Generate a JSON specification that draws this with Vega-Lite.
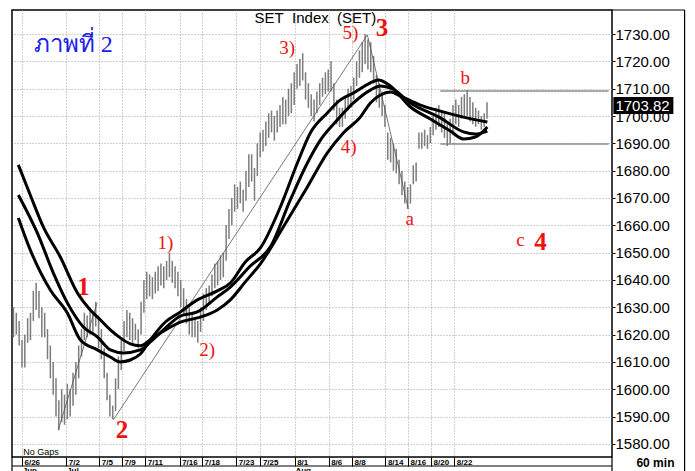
{
  "$schema": "https://vega.github.io/schema/vega-lite/v6.json",
  "width": 600,
  "height": 447,
  "autosize": {"type": "none"},
  "padding": {"left": 12, "top": 10, "right": 83, "bottom": 14},
  "background": "white",
  "config": {
    "view": {"stroke": "#000", "strokeWidth": 1.5},
    "text": {"font": "Liberation Sans"}
  },
  "datasets": {
    "bars": [
      {"t":0.13,"v":1619,"v2":1630},{"t":0.38,"v":1620,"v2":1628},{"t":0.63,"v":1616,"v2":1625},{"t":0.88,"v":1608,"v2":1618},
      {"t":1.13,"v":1608,"v2":1620},{"t":1.38,"v":1617,"v2":1626},{"t":1.63,"v":1618,"v2":1628},{"t":1.88,"v":1625,"v2":1636},
      {"t":2.13,"v":1629,"v2":1639},{"t":2.38,"v":1626,"v2":1636},{"t":2.63,"v":1619,"v2":1630},{"t":2.88,"v":1619,"v2":1628},
      {"t":3.13,"v":1611,"v2":1622},{"t":3.38,"v":1604,"v2":1616},{"t":3.63,"v":1598,"v2":1610},{"t":3.88,"v":1590,"v2":1604},
      {"t":4.13,"v":1585,"v2":1596},{"t":4.38,"v":1588,"v2":1600},{"t":4.63,"v":1587,"v2":1598},{"t":4.88,"v":1589,"v2":1602},
      {"t":5.13,"v":1590,"v2":1600},{"t":5.38,"v":1594,"v2":1606},{"t":5.63,"v":1598,"v2":1610},{"t":5.88,"v":1604,"v2":1616},
      {"t":6.13,"v":1612,"v2":1622},{"t":6.38,"v":1618,"v2":1628},{"t":6.63,"v":1619,"v2":1627},{"t":6.88,"v":1620,"v2":1630},
      {"t":7.13,"v":1620,"v2":1628},{"t":7.38,"v":1623,"v2":1632},{"t":7.63,"v":1615,"v2":1627},{"t":7.88,"v":1611,"v2":1622},
      {"t":8.13,"v":1604,"v2":1615},{"t":8.38,"v":1596,"v2":1606},{"t":8.63,"v":1590,"v2":1598},{"t":8.88,"v":1589,"v2":1594},
      {"t":9.13,"v":1592,"v2":1604},{"t":9.38,"v":1600,"v2":1612},{"t":9.63,"v":1607,"v2":1618},{"t":9.88,"v":1614,"v2":1625},
      {"t":10.13,"v":1619,"v2":1629},{"t":10.38,"v":1618,"v2":1628},{"t":10.63,"v":1617,"v2":1626},{"t":10.88,"v":1618,"v2":1624},
      {"t":11.13,"v":1615,"v2":1622},{"t":11.38,"v":1620,"v2":1632},{"t":11.63,"v":1628,"v2":1640},{"t":11.88,"v":1633,"v2":1643},
      {"t":12.13,"v":1634,"v2":1642},{"t":12.38,"v":1633,"v2":1641},{"t":12.63,"v":1635,"v2":1643},{"t":12.88,"v":1636,"v2":1645},
      {"t":13.13,"v":1638,"v2":1646},{"t":13.38,"v":1637,"v2":1645},{"t":13.63,"v":1640,"v2":1647},{"t":13.88,"v":1641,"v2":1650},
      {"t":14.13,"v":1639,"v2":1647},{"t":14.38,"v":1637,"v2":1645},{"t":14.63,"v":1634,"v2":1643},{"t":14.88,"v":1630,"v2":1640},
      {"t":15.13,"v":1628,"v2":1637},{"t":15.38,"v":1624,"v2":1633},{"t":15.63,"v":1620,"v2":1630},{"t":15.88,"v":1619,"v2":1628},
      {"t":16.13,"v":1619,"v2":1626},{"t":16.38,"v":1617,"v2":1625},{"t":16.63,"v":1621,"v2":1630},{"t":16.88,"v":1625,"v2":1635},
      {"t":17.13,"v":1629,"v2":1637},{"t":17.38,"v":1631,"v2":1638},{"t":17.63,"v":1634,"v2":1642},{"t":17.88,"v":1637,"v2":1646},
      {"t":18.13,"v":1638,"v2":1647},{"t":18.38,"v":1640,"v2":1649},{"t":18.63,"v":1641,"v2":1650},{"t":18.88,"v":1647,"v2":1660},
      {"t":19.13,"v":1655,"v2":1666},{"t":19.38,"v":1660,"v2":1670},{"t":19.63,"v":1665,"v2":1675},{"t":19.88,"v":1666,"v2":1674},
      {"t":20.13,"v":1668,"v2":1676},{"t":20.38,"v":1665,"v2":1673},{"t":20.63,"v":1669,"v2":1680},{"t":20.88,"v":1674,"v2":1686},
      {"t":21.13,"v":1676,"v2":1686},{"t":21.38,"v":1669,"v2":1681},{"t":21.63,"v":1678,"v2":1690},{"t":21.88,"v":1685,"v2":1694},
      {"t":22.13,"v":1687,"v2":1695},{"t":22.38,"v":1689,"v2":1698},{"t":22.63,"v":1692,"v2":1701},{"t":22.88,"v":1694,"v2":1702},
      {"t":23.13,"v":1691,"v2":1700},{"t":23.38,"v":1694,"v2":1702},{"t":23.63,"v":1696,"v2":1704},{"t":23.88,"v":1697,"v2":1707},
      {"t":24.13,"v":1697,"v2":1706},{"t":24.38,"v":1700,"v2":1710},{"t":24.63,"v":1701,"v2":1712},{"t":24.88,"v":1704,"v2":1716},
      {"t":25.13,"v":1710,"v2":1719},{"t":25.38,"v":1711,"v2":1721},{"t":25.63,"v":1713,"v2":1723},{"t":25.88,"v":1706,"v2":1716},
      {"t":26.13,"v":1703,"v2":1712},{"t":26.38,"v":1700,"v2":1708},{"t":26.63,"v":1698,"v2":1706},{"t":26.88,"v":1701,"v2":1709},
      {"t":27.13,"v":1704,"v2":1712},{"t":27.38,"v":1707,"v2":1714},{"t":27.63,"v":1708,"v2":1716},{"t":27.88,"v":1709,"v2":1717},
      {"t":28.13,"v":1709,"v2":1720},{"t":28.38,"v":1702,"v2":1712},{"t":28.63,"v":1697,"v2":1706},{"t":28.88,"v":1696,"v2":1703},
      {"t":29.13,"v":1696,"v2":1703},{"t":29.38,"v":1699,"v2":1707},{"t":29.63,"v":1702,"v2":1710},{"t":29.88,"v":1703,"v2":1711},
      {"t":30.13,"v":1706,"v2":1714},{"t":30.38,"v":1711,"v2":1720},{"t":30.63,"v":1714,"v2":1724},{"t":30.88,"v":1716,"v2":1727},
      {"t":31.13,"v":1719,"v2":1730},{"t":31.38,"v":1717,"v2":1728},{"t":31.63,"v":1716,"v2":1727},{"t":31.88,"v":1712,"v2":1722},
      {"t":32.13,"v":1705,"v2":1715},{"t":32.38,"v":1703,"v2":1712},{"t":32.63,"v":1700,"v2":1709},{"t":32.88,"v":1696,"v2":1704},
      {"t":33.13,"v":1684,"v2":1694},{"t":33.38,"v":1683,"v2":1692},{"t":33.63,"v":1680,"v2":1690},{"t":33.88,"v":1679,"v2":1688},
      {"t":34.13,"v":1675,"v2":1684},{"t":34.38,"v":1671,"v2":1680},{"t":34.63,"v":1668,"v2":1676},{"t":34.88,"v":1666,"v2":1674},
      {"t":35.13,"v":1668,"v2":1675},{"t":35.38,"v":1675,"v2":1682},{"t":35.63,"v":1676,"v2":1683},{"t":35.88,"v":1688,"v2":1694},
      {"t":36.13,"v":1688,"v2":1694},{"t":36.38,"v":1689,"v2":1695},{"t":36.63,"v":1688,"v2":1693},{"t":36.88,"v":1690,"v2":1696},
      {"t":37.13,"v":1693,"v2":1700},{"t":37.38,"v":1695,"v2":1703},{"t":37.63,"v":1696,"v2":1704},{"t":37.88,"v":1694,"v2":1702},
      {"t":38.13,"v":1692,"v2":1701},{"t":38.38,"v":1689,"v2":1697},{"t":38.63,"v":1690,"v2":1699},{"t":38.88,"v":1693,"v2":1704},
      {"t":39.13,"v":1697,"v2":1706},{"t":39.38,"v":1696,"v2":1704},{"t":39.63,"v":1699,"v2":1707},{"t":39.88,"v":1700,"v2":1708},
      {"t":40.13,"v":1700,"v2":1709.5},{"t":40.38,"v":1698,"v2":1707},{"t":40.63,"v":1697,"v2":1705},{"t":40.88,"v":1696,"v2":1703},
      {"t":41.13,"v":1697,"v2":1702},{"t":41.38,"v":1695,"v2":1700},{"t":41.63,"v":1696,"v2":1701},{"t":41.88,"v":1699,"v2":1705}
    ],
    "ma": [
      {"s":"A","t":0.56,"v":1682.1},{"s":"A","t":1.61,"v":1671.1},{"s":"A","t":2.76,"v":1659.4},{"s":"A","t":4.26,"v":1648.4},{"s":"A","t":5.76,"v":1635.3},{"s":"A","t":6.9,"v":1629.0},{"s":"A","t":7.79,"v":1625.4},{"s":"A","t":8.67,"v":1621.7},{"s":"A","t":9.55,"v":1618.8},{"s":"A","t":10.43,"v":1616.6},{"s":"A","t":11.31,"v":1615.9},{"s":"A","t":12.2,"v":1618.1},{"s":"A","t":13.52,"v":1621.7},{"s":"A","t":14.84,"v":1624.6},{"s":"A","t":16.34,"v":1626.1},{"s":"A","t":18.1,"v":1629.0},{"s":"A","t":19.25,"v":1632.7},{"s":"A","t":20.57,"v":1639.3},{"s":"A","t":21.9,"v":1645.9},{"s":"A","t":23.92,"v":1659.4},{"s":"A","t":26.04,"v":1674.0},{"s":"A","t":27.8,"v":1686.5},{"s":"A","t":29.21,"v":1693.8},{"s":"A","t":30.71,"v":1699.6},{"s":"A","t":31.6,"v":1704.8},{"s":"A","t":32.48,"v":1707.7},{"s":"A","t":33.36,"v":1708.8},{"s":"A","t":34.24,"v":1707.3},{"s":"A","t":36.01,"v":1704.0},{"s":"A","t":37.77,"v":1701.8},{"s":"A","t":39.8,"v":1699.6},{"s":"A","t":41.91,"v":1697.8},
      {"s":"B","t":0.56,"v":1671.1},{"s":"B","t":2.23,"v":1657.2},{"s":"B","t":3.64,"v":1642.6},{"s":"B","t":4.88,"v":1631.6},{"s":"B","t":6.29,"v":1622.8},{"s":"B","t":7.52,"v":1619.2},{"s":"B","t":8.67,"v":1614.4},{"s":"B","t":9.81,"v":1613.3},{"s":"B","t":11.31,"v":1614.4},{"s":"B","t":12.2,"v":1617.3},{"s":"B","t":13.52,"v":1622.4},{"s":"B","t":14.84,"v":1626.8},{"s":"B","t":16.34,"v":1628.3},{"s":"B","t":18.1,"v":1633.8},{"s":"B","t":19.25,"v":1637.4},{"s":"B","t":21.01,"v":1645.1},{"s":"B","t":22.78,"v":1652.1},{"s":"B","t":24.54,"v":1669.3},{"s":"B","t":26.04,"v":1682.8},{"s":"B","t":27.19,"v":1691.2},{"s":"B","t":28.69,"v":1698.6},{"s":"B","t":30.1,"v":1704.8},{"s":"B","t":31.6,"v":1709.5},{"s":"B","t":32.48,"v":1711.0},{"s":"B","t":33.54,"v":1709.9},{"s":"B","t":35.13,"v":1704.8},{"s":"B","t":37.77,"v":1699.3},{"s":"B","t":39.8,"v":1694.2},{"s":"B","t":40.85,"v":1693.4},{"s":"B","t":41.91,"v":1694.5},
      {"s":"C","t":0.56,"v":1662.7},{"s":"C","t":1.61,"v":1651.0},{"s":"C","t":3.38,"v":1636.3},{"s":"C","t":4.88,"v":1627.9},{"s":"C","t":6.02,"v":1618.1},{"s":"C","t":7.52,"v":1614.4},{"s":"C","t":8.67,"v":1611.8},{"s":"C","t":9.55,"v":1610.0},{"s":"C","t":10.43,"v":1610.7},{"s":"C","t":11.31,"v":1612.9},{"s":"C","t":12.2,"v":1618.1},{"s":"C","t":13.52,"v":1624.6},{"s":"C","t":14.84,"v":1628.3},{"s":"C","t":16.34,"v":1632.7},{"s":"C","t":18.1,"v":1636.0},{"s":"C","t":19.25,"v":1638.9},{"s":"C","t":20.57,"v":1646.6},{"s":"C","t":21.9,"v":1651.7},{"s":"C","t":23.66,"v":1666.7},{"s":"C","t":25.16,"v":1682.8},{"s":"C","t":26.3,"v":1693.8},{"s":"C","t":27.8,"v":1701.1},{"s":"C","t":28.95,"v":1705.9},{"s":"C","t":30.1,"v":1708.4},{"s":"C","t":31.6,"v":1712.1},{"s":"C","t":32.3,"v":1713.2},{"s":"C","t":33.36,"v":1711.0},{"s":"C","t":35.13,"v":1703.3},{"s":"C","t":36.89,"v":1698.9},{"s":"C","t":38.65,"v":1694.5},{"s":"C","t":39.8,"v":1691.6},{"s":"C","t":40.85,"v":1692.3},{"s":"C","t":41.91,"v":1696.0}
    ],
    "trend": [
      {"t":4.08,"v":1585.1,"t2":7.5,"v2":1631.6},
      {"t":8.94,"v":1588.8,"t2":31.33,"v2":1729.7},
      {"t":31.33,"v":1729.7,"t2":34.95,"v2":1666.0}
    ],
    "hlines": [
      {"t":37.77,"v":1709.2,"t2":52.6,"v2":1709.2},
      {"t":37.77,"v":1689.8,"t2":52.6,"v2":1689.8}
    ],
    "frame": [
      {"t":52.9,"v":1738.8,"t2":59.3,"v2":1738.8},
      {"t":59.3,"v":1738.8,"t2":59.3,"v2":1560},
      {"t":0,"v":1571.9,"t2":52.9,"v2":1571.9},
      {"t":0,"v":1575.2,"t2":0,"v2":1560},
      {"t":52.9,"v":1575.2,"t2":52.9,"v2":1560}
    ],
    "wave": [
      {"t":13.52,"v":1653.4,"lab":"1)"},{"t":17.2,"v":1614.4,"lab":"2)"},{"t":24.25,"v":1724.8,"lab":"3)"},{"t":29.68,"v":1688.8,"lab":"4)"},{"t":29.83,"v":1730.3,"lab":"5)"},
      {"t":35.06,"v":1662.2,"lab":"a"},{"t":39.97,"v":1713.8,"lab":"b"},{"t":44.82,"v":1654.6,"lab":"c"}
    ],
    "waveBig": [
      {"t":6.31,"v":1637.6,"lab":"1"},{"t":9.7,"v":1585.1,"lab":"2"},{"t":32.63,"v":1732.1,"lab":"3"},{"t":46.59,"v":1654.0,"lab":"4"}
    ],
    "title": [{"t":26.75,"v":1735.9,"lab":"SET\u00a0 Index\u00a0 (SET)"}],
    "thai": [{"t":5.41,"v":1726.0,"lab":"ภาพที่ 2"}],
    "nogaps": [{"t":1.0,"v":1577.0,"lab":"No Gaps"}],
    "months": [{"t":0.95,"v":1571.5,"lab":"Jun"},{"t":4.86,"v":1571.5,"lab":"Jul"},{"t":24.99,"v":1571.5,"lab":"Aug"}],
    "tf": [{"t":56.73,"v":1572.9,"lab":"60  min"}],
    "box": [{"t":53.02,"v":1700.7,"t2":58.31,"v2":1707.0}],
    "last": [{"t":53.2,"v":1703.82,"lab":"1703.82"}]
  },
  "encoding": {
    "x": {
      "field": "t", "type": "quantitative",
      "scale": {"domain": [0, 52.9], "nice": false, "zero": false},
      "axis": {
        "title": null, "orient": "bottom", "domain": false,
        "values": [0.88,4.79,7.7,9.7,11.75,14.78,16.75,19.78,21.9,24.92,27.92,29.98,32.92,34.92,36.95,39],
        "labelExpr": "['6/26','7/2','7/5','7/9','7/11','7/16','7/18','7/23','7/25','8/1','8/6','8/8','8/14','8/16','8/20','8/22'][indexof([0.88,4.79,7.7,9.7,11.75,14.78,16.75,19.78,21.9,24.92,27.92,29.98,32.92,34.92,36.95,39], datum.value)]",
        "labelAlign": "left", "labelOffset": 2, "labelPadding": -8,
        "labelFont": "Liberation Sans", "labelFontSize": 8, "labelFontWeight": "bold", "labelColor": "#000",
        "labelOverlap": false, "labelFlush": false, "labelBound": false,
        "tickSize": 9, "tickColor": "#000", "tickWidth": 1,
        "grid": true, "gridColor": "#a0a0a0", "gridDash": [1, 2], "gridWidth": 1
      }
    },
    "y": {
      "field": "v", "type": "quantitative",
      "scale": {"domain": [1575.2, 1738.8], "nice": false, "zero": false},
      "axis": {
        "title": null, "orient": "right", "domain": false,
        "values": [1580,1590,1600,1610,1620,1630,1640,1650,1660,1670,1680,1690,1700,1710,1720,1730],
        "format": ".2f",
        "labelFont": "Liberation Sans", "labelFontSize": 15, "labelColor": "#000",
        "labelPadding": 0, "labelOverlap": false, "labelFlush": false, "labelBound": false,
        "tickSize": 3, "tickColor": "#000",
        "grid": true, "gridColor": "#a0a0a0", "gridDash": [1, 2], "gridWidth": 1
      }
    }
  },
  "layer": [
    {"data": {"name": "hlines"}, "mark": {"type": "rule", "color": "#8c8c8c", "strokeWidth": 1.5}, "encoding": {"x2": {"field": "t2"}, "y2": {"field": "v2"}}},
    {"data": {"name": "bars"}, "mark": {"type": "rule", "color": "#7c7c7c", "strokeWidth": 1.5}, "encoding": {"y2": {"field": "v2"}}},
    {"data": {"name": "trend"}, "mark": {"type": "rule", "color": "#555", "strokeWidth": 0.8}, "encoding": {"x2": {"field": "t2"}, "y2": {"field": "v2"}}},
    {"data": {"name": "ma"}, "mark": {"type": "line", "color": "#000", "strokeWidth": 3, "interpolate": "monotone"}, "encoding": {"detail": {"field": "s"}}},
    {"data": {"name": "frame"}, "mark": {"type": "rule", "color": "#000", "strokeWidth": 1.2}, "encoding": {"x2": {"field": "t2"}, "y2": {"field": "v2"}}},
    {"data": {"name": "wave"}, "mark": {"type": "text", "font": "Liberation Serif", "fontSize": 19, "color": "#f01010", "baseline": "middle"}, "encoding": {"text": {"field": "lab"}}},
    {"data": {"name": "waveBig"}, "mark": {"type": "text", "font": "Liberation Serif", "fontSize": 25, "fontWeight": "bold", "color": "#f01010", "baseline": "middle"}, "encoding": {"text": {"field": "lab"}}},
    {"data": {"name": "title"}, "mark": {"type": "text", "font": "Liberation Sans", "fontSize": 15, "color": "#000", "baseline": "middle"}, "encoding": {"text": {"field": "lab"}}},
    {"data": {"name": "thai"}, "mark": {"type": "text", "font": "serif", "fontSize": 24, "color": "#2020e8", "baseline": "middle"}, "encoding": {"text": {"field": "lab"}}},
    {"data": {"name": "nogaps"}, "mark": {"type": "text", "font": "Liberation Sans", "fontSize": 9, "color": "#000", "align": "left", "baseline": "middle"}, "encoding": {"text": {"field": "lab"}}},
    {"data": {"name": "months"}, "mark": {"type": "text", "font": "Liberation Sans", "fontSize": 8, "fontWeight": "bold", "color": "#000", "align": "left", "baseline": "top"}, "encoding": {"text": {"field": "lab"}}},
    {"data": {"name": "tf"}, "mark": {"type": "text", "font": "Liberation Sans", "fontSize": 12, "fontWeight": "bold", "color": "#000", "baseline": "middle"}, "encoding": {"text": {"field": "lab"}}},
    {"data": {"name": "box"}, "mark": {"type": "rect", "color": "#000"}, "encoding": {"x2": {"field": "t2"}, "y2": {"field": "v2"}}},
    {"data": {"name": "last"}, "mark": {"type": "text", "font": "Liberation Sans", "fontSize": 15, "color": "#fff", "align": "left", "baseline": "middle"}, "encoding": {"text": {"field": "lab"}}}
  ]
}
